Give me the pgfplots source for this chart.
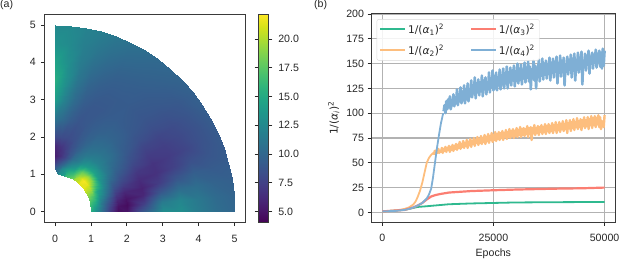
\documentclass[border=0pt]{standalone}
\usepackage{fontspec}
\setmainfont{Liberation Sans}
\newfontfamily\djv{DejaVu Sans}
\usepackage{pgfplots}
\pgfplotsset{compat=1.18}
\definecolor{txt}{HTML}{262626}
\definecolor{frm}{HTML}{3A3A3A}
\definecolor{cg}{HTML}{2FB98F}
\definecolor{co}{HTML}{FDBE7E}
\definecolor{cr}{HTML}{FB7E72}
\definecolor{cb}{HTML}{7FAFD5}
\newcommand\fs{\fontsize{10.6}{12.5}\selectfont}
\newcommand\al[1]{{\djv 1/(\textit{α}\textsubscript{#1})\textsuperscript{2}}}
\pgfplotsset{
  every axis/.append style={
    scale only axis, axis line style={frm,line width=1pt},
    tick style={txt,line width=0.8pt}, tick align=outside, major tick length=3.5pt,
    tick label style={font=\fs,text=txt}, label style={font=\fs,text=txt},
    /pgf/number format/assume math mode=true, /pgf/number format/1000 sep={}},
}
\begin{document}
\begin{tikzpicture}
\useasboundingbox (0,0) rectangle (630pt,268pt);
\node[font=\fs,text=txt,anchor=base west,inner sep=0] at (0pt,260pt) {(a)};
\node[font=\fs,text=txt,anchor=base west,inner sep=0] at (314pt,260pt) {(b)};
\begin{axis}[at={(44.3pt,45.3pt)},anchor=south west,width=201.3pt,height=208.7pt,
  xmin=-0.30,xmax=5.31,ymin=-0.295,ymax=5.295,
  xtick={0,1,2,3,4,5},ytick={0,1,2,3,4,5},tick pos=left,
  xticklabel style={yshift=-5pt},yticklabel style={xshift=-1.5pt},
  colormap/viridis,point meta min=4.04,point meta max=22.17,
  colorbar,colorbar shift/.style={xshift=12.1pt},
  colorbar style={width=10.6pt,ytick={5,7.5,10,12.5,15,17.5,20},
    yticklabel style={/pgf/number format/fixed,/pgf/number format/fixed zerofill,/pgf/number format/precision=1,font=\fs,text=txt,xshift=2.5pt}},
]
\addplot[surf,shader=interp,mesh/rows=19,mesh/cols=12,point meta=\thisrow{v}]
 table[row sep=crcr,x expr={\thisrow{r}*cos(5*floor(\coordindex/12))},y expr={\thisrow{r}*sin(5*floor(\coordindex/12))}]{
r v\\
1 15\\1.15 13\\1.3 10.5\\1.5 7.5\\1.75 4.6\\2 5\\2.5 9.5\\3 13\\3.5 13\\4 11.5\\4.5 10.5\\5 10\\
1 16\\1.15 13.5\\1.3 11\\1.5 8\\1.75 5\\2 4.6\\2.5 7.5\\3 11.5\\3.5 12.3\\4 11.3\\4.5 10.3\\5 9.8\\
1 16.5\\1.15 14.5\\1.3 11.5\\1.5 9\\1.75 6\\2 5\\2.5 6\\3 9\\3.5 10.5\\4 10.5\\4.5 9.8\\5 9.5\\
1 17\\1.15 15.5\\1.3 12.5\\1.5 10\\1.75 7\\2 6\\2.5 5.8\\3 7.3\\3.5 8.8\\4 9.5\\4.5 9.2\\5 9.3\\
1 18\\1.15 16.5\\1.3 13.5\\1.5 11\\1.75 8.3\\2 7.2\\2.5 6.3\\3 6.6\\3.5 7.5\\4 8.5\\4.5 8.8\\5 9.2\\
1 19\\1.15 18\\1.3 14.5\\1.5 12\\1.75 9.3\\2 8.3\\2.5 7\\3 6.7\\3.5 7.2\\4 7.8\\4.5 8.6\\5 9.2\\
1 20\\1.15 19.5\\1.3 16.5\\1.5 12.8\\1.75 10.5\\2 9.2\\2.5 7.9\\3 7.2\\3.5 7.4\\4 8\\4.5 8.6\\5 9.3\\
1 21\\1.15 20.5\\1.3 18\\1.5 13.5\\1.75 11.3\\2 9.9\\2.5 8.6\\3 7.8\\3.5 7.8\\4 8.2\\4.5 8.8\\5 9.5\\
1 21.5\\1.15 21.5\\1.3 19\\1.5 14.3\\1.75 11.8\\2 10.5\\2.5 9.2\\3 8.5\\3.5 8.4\\4 8.6\\4.5 9\\5 9.6\\
1 21.5\\1.15 22\\1.3 19.5\\1.5 14.5\\1.75 12\\2 11\\2.5 9.6\\3 9\\3.5 8.8\\4 9\\4.5 9.3\\5 9.8\\
1 21.5\\1.15 21.5\\1.3 19\\1.5 14.3\\1.75 12\\2 11\\2.5 9.8\\3 9.2\\3.5 9\\4 9.2\\4.5 9.6\\5 10\\
1 21\\1.15 20\\1.3 18\\1.5 13.8\\1.75 11.7\\2 10.8\\2.5 9.8\\3 9.3\\3.5 9.2\\4 9.4\\4.5 9.8\\5 10.2\\
1 19.5\\1.15 18\\1.3 16\\1.5 12.8\\1.75 11.2\\2 10.5\\2.5 9.6\\3 9.2\\3.5 9.2\\4 9.5\\4.5 10\\5 10.5\\
1 18.5\\1.15 16\\1.3 13.7\\1.5 11.5\\1.75 10.5\\2 9.8\\2.5 9.3\\3 9\\3.5 9.2\\4 9.6\\4.5 10.2\\5 10.8\\
1 17\\1.15 15\\1.3 12.7\\1.5 10.5\\1.75 9.5\\2 9.2\\2.5 9\\3 9\\3.5 9.4\\4 10\\4.5 10.6\\5 11.2\\
1 16\\1.15 14\\1.3 11.5\\1.5 9\\1.75 8.5\\2 8.5\\2.5 8.8\\3 9.3\\3.5 9.9\\4 10.6\\4.5 11.2\\5 11.7\\
1 14.5\\1.15 12.5\\1.3 9.8\\1.5 7.5\\1.75 7.5\\2 8.2\\2.5 9.3\\3 10.3\\3.5 11\\4 11.5\\4.5 11.8\\5 12\\
1 13\\1.15 11\\1.3 8.5\\1.5 6.5\\1.75 6.8\\2 8.2\\2.5 10.2\\3 12\\3.5 13\\4 13\\4.5 12.7\\5 12.5\\
1 12\\1.15 9.8\\1.3 7.5\\1.5 5.5\\1.75 6\\2 8\\2.5 11\\3 14\\3.5 15.3\\4 14.5\\4.5 13.2\\5 12.5\\
};
\end{axis}
\begin{axis}[at={(371pt,45.7pt)},anchor=south west,width=244.7pt,height=208.3pt,
  xmin=-2540,xmax=52500,ymin=-10,ymax=200,
  xtick={0,25000,50000},ytick={0,25,50,75,100,125,150,175,200},tick pos=left,
  scaled x ticks=false,xticklabel style={yshift=-5pt},
  grid=major,grid style={color=black!30,line width=1.3pt},
  xlabel={Epochs},ylabel={1/(\textit{α}\textsubscript{\textit{i}})\textsuperscript{2}},
  ylabel style={font=\djv\fs},
  legend columns=2,
  legend image code/.code={\draw[#1,line width=1.8pt] (0pt,0pt) -- (25pt,0pt);},
  legend style={at={(0.023,0.975)},anchor=north west,fill=white,fill opacity=0.85,text opacity=1,
    draw=black!15,rounded corners=2pt,font=\fs,text=txt,inner sep=2.5pt,
    /tikz/row sep=6pt,
    /tikz/every even column/.append style={column sep=24pt}},
  legend cell align=left,transpose legend,
]
\addplot[cg,line width=1.8pt] coordinates {(0,1)(5000,2.5)(7000,4.5)(8000,5.5)(10000,6.2)(12000,7)(15000,8.2)(20000,9)(25000,9.5)(30000,10)(40000,10.3)(50000,10.5)};
\addlegendentry{\al1}
\addplot[co,line width=1.8pt] coordinates {(0,1)(3000,1.8)(5000,3.5)(6000,5)(7000,8)(7500,11)(8000,16)(8500,22)(9000,30)(9500,40)(10000,50)(10500,55)(11000,58)(11500,60)};
\addlegendentry{\al2}
\addplot[co,line width=2.4pt,line join=round,forget plot] table[x expr={11600+200*\coordindex},y index=0,header=false,row sep=crcr]{
58\\62\\59\\63\\60\\64\\60\\62\\61\\65\\60\\64\\62\\66\\61\\65\\63\\67\\61\\66\\
63\\68\\62\\67\\64\\69\\63\\68\\65\\71\\64\\69\\66\\72\\65\\70\\67\\73\\65\\71\\
68\\74\\66\\72\\69\\75\\67\\73\\70\\76\\68\\74\\70\\77\\69\\75\\71\\78\\69\\76\\
72\\79\\70\\77\\73\\80\\71\\78\\73\\81\\72\\79\\74\\81\\73\\80\\75\\82\\73\\80\\
76\\83\\74\\81\\76\\84\\75\\82\\77\\84\\75\\82\\77\\85\\76\\83\\78\\86\\76\\84\\
78\\85\\77\\84\\79\\87\\76\\85\\79\\86\\73\\85\\80\\88\\78\\85\\80\\87\\78\\86\\
81\\88\\79\\86\\81\\89\\79\\87\\82\\89\\80\\87\\82\\90\\80\\88\\83\\91\\80\\88\\
83\\91\\81\\89\\84\\92\\82\\89\\84\\93\\80\\90\\85\\93\\82\\91\\85\\94\\83\\91\\
86\\95\\84\\92\\86\\94\\83\\93\\87\\96\\85\\93\\87\\96\\84\\94\\88\\97\\85\\95\\
88\\97\\86\\95\\89\\98\\86\\96\\84\\92\\90\\86\\98\\
};
\addplot[cr,line width=2.2pt] coordinates {(0,1)(5000,2.5)(7000,5)(8000,7)(9000,9.5)(10000,13)(11000,16)(12000,17.5)(13000,18.5)(15000,20)(20000,21.5)(25000,22.3)(30000,23)(35000,23.5)(40000,24)(45000,24.3)(50000,25)};
\addlegendentry{\al3}
\addplot[cb,line width=1.8pt] coordinates {(0,1)(3000,1.5)(5000,2.5)(6000,3.5)(7000,5)(8000,7)(9000,9.5)(10000,14)(10500,18)(11000,24)(11400,35)(11850,50)(12300,65)(12750,78)(13200,90)(13700,100)};
\addlegendentry{\al4}
\addplot[cb,line width=2.6pt,line join=round,forget plot] table[x expr={13800+200*\coordindex},y index=0,header=false,row sep=crcr]{
102\\108\\100\\112\\104\\114\\106\\117\\104\\110\\108\\119\\107\\113\\110\\124\\108\\118\\112\\126\\
110\\121\\113\\128\\110\\124\\114\\130\\112\\122\\117\\133\\116\\128\\120\\136\\115\\130\\121\\134\\
118\\131\\122\\138\\117\\133\\124\\136\\119\\130\\124\\141\\121\\134\\126\\143\\123\\137\\125\\141\\
123\\136\\128\\144\\124\\138\\129\\145\\125\\140\\130\\147\\125\\141\\131\\146\\128\\143\\133\\148\\
127\\142\\133\\150\\130\\145\\134\\149\\129\\144\\135\\151\\131\\146\\136\\152\\132\\147\\124\\143\\
136\\153\\133\\148\\125\\146\\137\\154\\132\\149\\138\\155\\134\\150\\139\\153\\135\\149\\140\\156\\
133\\151\\141\\155\\136\\152\\142\\157\\130\\150\\141\\158\\137\\153\\143\\156\\128\\149\\142\\157\\
139\\154\\144\\159\\136\\155\\145\\160\\133\\152\\146\\161\\141\\156\\147\\162\\129\\153\\148\\160\\
143\\158\\149\\163\\140\\157\\150\\161\\145\\159\\151\\164\\146\\160\\152\\163\\147\\161\\145\\165\\
148\\163\\
};
\end{axis}
\end{tikzpicture}
\end{document}
